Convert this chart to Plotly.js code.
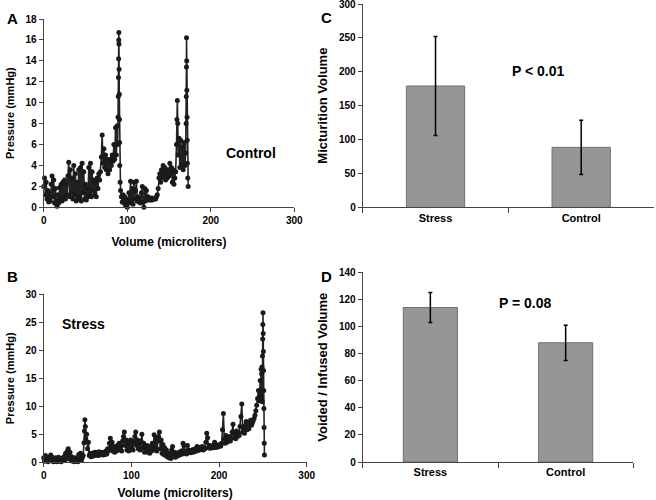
<!DOCTYPE html>
<html>
<head>
<meta charset="utf-8">
<script src="https://cdn.plot.ly/plotly-3.0.1.min.js"></script>
<style>html,body{margin:0;padding:0;background:#fff;}#chart{width:656px;height:500px;}</style>
</head>
<body>
<div id="chart"></div>
<script>
// Panel A (Control): volume (µL) and pressure (mmHg)
const volumeA = [0,1,2,3,4,5,6,7,8,9,10,11,12,13,14,15,16,17,18,19,20,21,22,23,24,25,26,27,28,29,30,31,32,33,34,35,36,37,38,39,40,41,42,43,44,45,46,47,48,49,50,51,52,53,54,55,56,57,58,59,60,61,62,63,64,65,66,67,68,69,70,71,72,73,74,75,76,77,78,79,80,81,82,83,84,85,86,87,88,
88.5,89,89.3,89.5,89.7,89.9,90,90.1,90.3,90.5,90.7,90.9,91,91.5,
92,93,94,95,96,97,98,99,100,101,102,103,104,105,106,107,108,109,110,111,112,113,114,115,116,117,118,119,120,121,122,123,124,125,126,127,128,129,130,131,132,133,134,135,136,137,138,139,140,141,142,143,144,145,146,147,148,149,150,151,152,153,154,155,156,157,158,159,
159.5,160,160.5,161,162,163,164,165,166,167,168,169,170,
170.5,170.7,170.9,171,171.2,171.4,171.6,171.8,172,172.5,173];
const pressureA = [2.0,2.8,1.2,2.4,0.8,1.6,0.5,1.4,0.6,2.2,
3.0,1.0,2.6,0.4,1.8,0.6,0.1,1.2,0.4,1.9,
0.8,2.2,0.6,2.4,1.0,2.6,0.8,2.2,1.2,3.0,
4.3,1.0,3.6,1.4,2.8,0.8,4.0,1.2,3.2,0.6,
2.4,0.8,3.6,1.0,3.8,0.6,4.2,1.4,3.4,0.8,
2.2,0.7,1.8,1.0,3.8,1.2,4.2,1.0,3.4,1.6,
2.6,1.2,2.4,1.0,2.8,1.8,3.2,2.6,3.4,4.8,
6.9,4.2,5.6,3.8,5.0,3.6,4.6,3.2,4.4,3.6,
4.6,4.0,5.0,4.4,6.0,4.6,7.6,5.0,7.8,
6.0,8.6,10.6,12.4,14.2,16.0,16.7,15.6,13.2,10.8,8.4,6.2,4.0,2.4,
1.6,1.0,0.5,1.2,0.4,1.0,0.2,0.8,
0.0,0.6,1.4,0.4,2.5,0.6,1.8,0.3,2.4,0.8,
1.6,2.5,0.6,1.0,0.5,0.9,0.4,1.4,2.0,0.5,
0.0,1.8,0.6,1.6,0.8,1.0,0.7,0.8,0.7,0.9,
0.7,0.8,0.8,0.9,0.8,1.0,1.2,1.8,2.8,3.2,
2.4,3.6,2.8,4.0,3.0,3.8,2.6,3.4,2.8,3.6,
3.0,4.2,3.2,3.8,2.4,3.6,2.2,2.8,3.4,6.0,
8.4,10.2,8.0,5.0,6.6,3.8,6.4,4.0,5.8,3.6,6.2,4.0,5.2,
8.0,10.6,13.4,16.2,14.0,11.2,8.6,6.4,4.2,2.8,2.0];

// Panel B (Stress)
const volumeB = [0,1,2,3,4,5,6,7,8,9,10,11,12,13,14,15,16,17,18,19,20,21,22,23,24,25,26,27,28,29,30,31,32,33,34,35,36,37,38,39,40,41,42,43,44,45,46,
46.5,47,47.5,48,49,
50,51,52,53,54,55,56,57,58,59,60,61,62,63,64,65,66,67,68,69,70,71,72,73,74,75,76,77,78,79,80,81,82,83,84,85,86,87,88,89,90,91,92,93,94,95,96,97,98,99,
100,101,102,103,104,105,106,107,108,109,110,111,112,113,114,115,116,117,118,119,120,121,122,123,124,125,126,127,128,129,130,131,132,133,134,135,136,137,138,139,140,141,142,143,144,145,146,147,148,149,
150,151,152,153,154,155,156,157,158,159,160,161,162,163,164,165,166,167,168,169,170,171,172,173,174,175,176,177,178,179,180,181,182,183,184,185,186,187,188,189,190,191,192,193,194,195,196,197,198,199,
200,201,202,203,204,205,206,207,208,209,210,211,212,213,214,215,216,217,218,219,220,221,222,223,224,225,226,227,228,229,230,231,232,233,234,235,236,237,238,239,240,241,242,243,244,245,246,247,
247.5,248,248.3,248.6,249,249.3,249.6,249.8,250,250.2,250.4,250.6,250.8,251,251.2,251.4,251.6,251.8];
const pressureB = [0.8,0.2,1.2,0.3,0.9,0.1,0.7,0.3,1.3,0.4,
0.9,0.1,0.6,0.2,0.8,0.1,0.5,0.9,0.2,0.6,
0.1,0.7,0.3,1.0,0.4,1.6,0.6,2.0,2.4,1.0,
1.8,0.4,1.0,0.2,0.7,0.1,0.8,0.3,0.6,0.1,
1.4,0.4,1.6,0.3,0.8,1.2,3.5,
5.6,7.6,6.4,4.2,5.0,
2.4,3.6,1.2,1.6,1.0,1.4,1.1,1.7,1.2,1.8,
1.3,1.6,1.2,1.9,1.3,1.7,1.4,1.8,1.3,1.6,
1.4,2.0,1.5,2.4,2.0,3.4,4.3,2.6,3.6,2.0,
2.8,1.8,2.4,2.0,3.0,2.2,3.4,2.4,2.9,2.0,
3.8,4.6,5.4,3.0,4.0,2.2,3.6,2.0,3.2,4.0,
2.4,3.8,2.2,3.6,4.6,5.4,3.0,4.0,2.4,3.4,
2.2,3.8,5.0,2.6,3.4,1.8,2.8,2.0,3.0,1.8,
2.6,1.6,2.8,2.0,3.4,2.2,4.9,2.6,4.4,2.0,
3.8,4.6,5.4,2.4,4.0,1.6,3.2,1.4,2.6,1.2,
2.2,1.0,1.6,0.8,1.4,0.7,2.2,2.8,1.2,1.8,
0.9,1.6,1.1,1.7,1.2,1.8,1.4,2.0,1.5,3.4,
3.0,1.6,2.0,1.5,3.0,2.2,1.8,2.1,1.7,2.2,
1.8,2.3,1.9,2.4,2.0,2.8,2.1,2.5,2.2,2.7,
2.3,2.8,2.2,2.6,2.4,3.6,5.2,4.4,2.6,3.0,
2.5,2.9,2.6,3.0,2.6,3.6,2.7,3.0,2.7,3.1,
2.8,3.2,2.9,3.4,5.8,8.7,4.2,3.4,4.8,3.6,
4.4,3.8,4.6,3.8,4.4,5.4,6.8,4.4,5.0,4.2,
5.6,4.6,5.2,4.8,6.4,8.2,10.4,5.4,6.0,5.2,
6.6,7.3,5.8,6.4,6.0,7.0,7.5,6.6,7.0,7.4,
7.8,8.4,9.2,10.2,11.4,12.8,11.0,14.6,
12.0,16.6,11.4,15.8,17.0,10.8,19.0,22.0,24.6,26.7,23.0,19.8,16.4,12.8,9.6,6.2,3.4,1.3];

// Panels C and D
const groups = ["Stress", "Control"];
const micturitionMean = [179, 88.5];
const micturitionErr = [73, 40];
const voidedMean = [114, 88];
const voidedErr = [11, 13];
const volumeTicks = [0, 100, 200, 300];

const FONT = "Liberation Sans, Arial, sans-serif";
const tickF = {family: FONT, size: 10, color: "#000", weight: "bold"};
const titleF = {family: FONT, size: 12, color: "#000", weight: "bold"};

const lineTrace = (x, y, xa, ya) => ({
  x: x, y: y, xaxis: xa, yaxis: ya, type: "scatter", mode: "lines+markers",
  line: {color: "#222", width: 1.6},
  marker: {symbol: "circle", size: 5, color: "#1a1a1a"},
  cliponaxis: false,
  hoverinfo: "skip", showlegend: false
});
const barTrace = (y, err, xa, ya) => ({
  x: groups, y: y, error_y: {type: "data", array: err, visible: true, color: "#000", thickness: 1.5, width: 2},
  xaxis: xa, yaxis: ya, type: "bar", width: 0.4,
  marker: {color: "#969696", line: {color: "#707070", width: 1}},
  showlegend: false
});

const data = [
  lineTrace(volumeA, pressureA, "x", "y"),
  lineTrace(volumeB, pressureB, "x2", "y2"),
  barTrace(micturitionMean, micturitionErr, "x3", "y3"),
  barTrace(voidedMean, voidedErr, "x4", "y4")
];

const axBase = {showline: true, linecolor: "#444", linewidth: 1, ticks: "outside", ticklen: 4, tickcolor: "#444",
  showgrid: false, zeroline: false, tickfont: tickF, fixedrange: true, ticklabeloverflow: "allow"};

const layout = {
  width: 656, height: 500,
  margin: {l: 0, r: 0, t: 0, b: 0},
  paper_bgcolor: "#fff", plot_bgcolor: "#fff",
  font: {family: FONT},
  xaxis: Object.assign({}, axBase, {domain: [0.0666, 0.4486], range: [0, 300], tickvals: volumeTicks, anchor: "y",
    title: {text: "Volume (microliters)", font: titleF, standoff: 12}}),
  yaxis: Object.assign({}, axBase, {domain: [0.5854, 0.962], range: [0, 18], dtick: 2, anchor: "x",
    title: {text: "Pressure (mmHg)", font: {family: FONT, size: 11, color: "#000", weight: "bold"}, standoff: 8}}),
  xaxis2: Object.assign({}, axBase, {domain: [0.0666, 0.4675], range: [0, 300], tickvals: volumeTicks, anchor: "y2",
    title: {text: "Volume (microliters)", font: titleF, standoff: 18}}),
  yaxis2: Object.assign({}, axBase, {domain: [0.0754, 0.4114], range: [0, 30], dtick: 5, anchor: "x2",
    title: {text: "Pressure (mmHg)", font: {family: FONT, size: 11, color: "#000", weight: "bold"}, standoff: 8}}),
  xaxis3: Object.assign({}, axBase, {domain: [0.5529, 0.997], range: [-0.5, 1.5], anchor: "y3", tickson: "boundaries",
    ticklen: 5, tickfont: Object.assign({}, tickF, {size: 11})}),
  yaxis3: Object.assign({}, axBase, {domain: [0.5854, 0.992], range: [0, 300], tickvals: [0, 50, 100, 150, 200, 250, 300], anchor: "x3",
    title: {text: "Micturition Volume", font: {family: FONT, size: 13, color: "#000", weight: "bold"}, standoff: 8}}),
  xaxis4: Object.assign({}, axBase, {domain: [0.5529, 0.9654], range: [-0.5, 1.5], anchor: "y4", tickson: "boundaries",
    ticklen: 5, tickfont: Object.assign({}, tickF, {size: 11})}),
  yaxis4: Object.assign({}, axBase, {domain: [0.076, 0.4554], range: [0, 140], dtick: 20, anchor: "x4",
    title: {text: "Voided / Infused Volume", font: {family: FONT, size: 13, color: "#000", weight: "bold"}, standoff: 8}}),
  annotations: [
    {text: "<b>A</b>", xref: "paper", yref: "paper", x: 0.008, y: 0.984, showarrow: false, font: {family: FONT, size: 15, color: "#000"}},
    {text: "<b>B</b>", xref: "paper", yref: "paper", x: 0.008, y: 0.448, showarrow: false, font: {family: FONT, size: 15, color: "#000"}},
    {text: "<b>C</b>", xref: "paper", yref: "paper", x: 0.498, y: 0.986, showarrow: false, font: {family: FONT, size: 15, color: "#000"}},
    {text: "<b>D</b>", xref: "paper", yref: "paper", x: 0.498, y: 0.448, showarrow: false, font: {family: FONT, size: 15, color: "#000"}},
    {text: "<b>Control</b>", xref: "x", yref: "y", x: 248, y: 5.2, showarrow: false, font: {family: FONT, size: 14, color: "#000"}},
    {text: "<b>Stress</b>", xref: "x2", yref: "y2", x: 45, y: 24.7, showarrow: false, font: {family: FONT, size: 14, color: "#000"}},
    {text: "<b>P < 0.01</b>", xref: "x3", yref: "y3", x: 0.71, y: 201, showarrow: false, font: {family: FONT, size: 14, color: "#000"}},
    {text: "<b>P = 0.08</b>", xref: "x4", yref: "y4", x: 0.70, y: 117, showarrow: false, font: {family: FONT, size: 14, color: "#000"}}
  ]
};

Plotly.newPlot("chart", data, layout, {staticPlot: true, displayModeBar: false});
</script>
</body>
</html>
